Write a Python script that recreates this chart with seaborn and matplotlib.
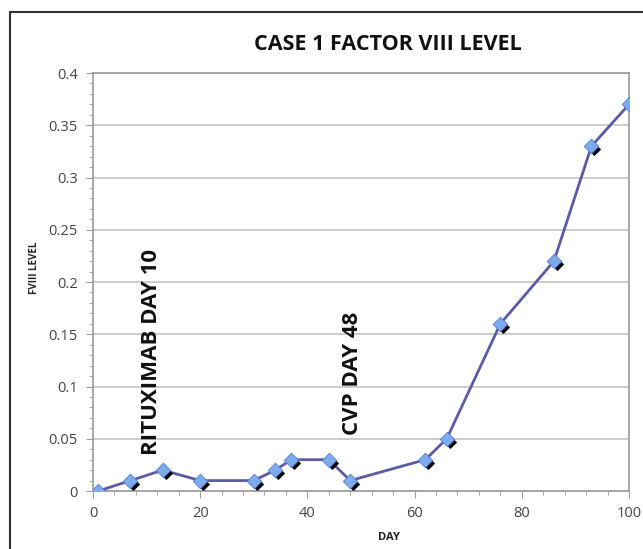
"""
Recreate the Case 1 Factor VIII level chart with seaborn.
"""
import matplotlib
matplotlib.use("Agg")
import matplotlib.pyplot as plt
import matplotlib.transforms as mtransforms
from matplotlib.patches import Rectangle
from matplotlib.ticker import MultipleLocator
import pandas as pd
import seaborn as sns

# data
days = [1, 7, 13, 20, 30, 34, 37, 44, 48, 62, 66, 76, 86, 93, 100]
fviii = [0.0, 0.01, 0.02, 0.01, 0.01, 0.02, 0.03, 0.03, 0.01, 0.03, 0.05,
         0.16, 0.22, 0.33, 0.37]
notes = ["RITUXIMAB DAY 10", "CVP DAY 48"]
note_days = [11, 48.5]
note_levels = [0.034, 0.054]


def main():
    df = pd.DataFrame({"day": days, "level": fviii})

    sns.set_style("white")
    plt.rcParams["font.family"] = ["Open Sans", "DejaVu Sans"]

    fig = plt.figure(figsize=(6.43, 5.49), dpi=100)
    ax = fig.add_axes([0.1446, 0.1056, 0.8336, 0.7614])

    # outer chart frame
    fig.patches.append(Rectangle((10 / 643, -0.05), 1.2, 1 - 12 / 549 + 0.05,
                                 transform=fig.transFigure, fill=False,
                                 edgecolor="#333333", linewidth=1.5))

    sns.lineplot(data=df, x="day", y="level", ax=ax, color="#5b5ba6",
                 linewidth=2, zorder=2)

    # black diamond shadows, slightly offset
    shadow = mtransforms.offset_copy(ax.transData, fig=fig, x=3, y=-3,
                                     units="dots")
    ax.scatter(df["day"], df["level"], marker="D", s=45, color="black",
               transform=shadow, zorder=3, linewidths=0)
    sns.scatterplot(data=df, x="day", y="level", ax=ax, marker="D", s=55,
                    color="#7eaaee", edgecolor="#4f7fd0", linewidth=0.6,
                    zorder=4)

    for txt, d, lv in zip(notes, note_days, note_levels):
        ax.text(d, lv, txt, rotation=90, fontsize=16, fontweight="bold",
                ha="center", va="bottom", color="#111111")

    ax.set_xlim(0, 100)
    ax.set_ylim(0, 0.4)
    ax.xaxis.set_major_locator(MultipleLocator(20))
    ax.xaxis.set_minor_locator(MultipleLocator(4))
    ax.yaxis.set_minor_locator(MultipleLocator(0.01))
    ax.set_yticks([0, 0.05, 0.1, 0.15, 0.2, 0.25, 0.3, 0.35, 0.4])
    ax.set_yticklabels(["0", "0.05", "0.1", "0.15", "0.2", "0.25", "0.3",
                        "0.35", "0.4"])
    ax.grid(axis="y", color="#c8c8c8", linewidth=1.3)
    ax.set_axisbelow(True)

    for side in ["left", "bottom", "right", "top"]:
        ax.spines[side].set_color("#9a9a9a")
        ax.spines[side].set_linewidth(1.2)
    ax.tick_params(axis="both", which="both", direction="out", colors="#9a9a9a",
                   labelcolor="#444444", labelsize=10.5)
    ax.tick_params(axis="both", which="major", length=5, pad=6)
    ax.tick_params(axis="both", which="minor", length=3)
    ax.tick_params(axis="x", which="both", bottom=True)
    ax.tick_params(axis="y", which="both", left=True)

    fig.text(388 / 643, 1 - 45 / 549, "CASE 1 FACTOR VIII LEVEL",
             fontsize=15.5, fontweight="bold", color="#111111", ha="center",
             va="center")
    ax.set_xlabel("DAY", fontsize=8, fontweight="bold", color="#222222")
    ax.xaxis.set_label_coords((389 - 93) / 536, -(532 - 491) / 418)
    ax.set_ylabel("FVIII LEVEL", fontsize=7, fontweight="bold",
                  color="#222222")
    ax.yaxis.set_label_coords(-(93 - 40) / 536, (491 - 268) / 418)

    fig.savefig("out.png", dpi=100)


if __name__ == "__main__":
    main()
